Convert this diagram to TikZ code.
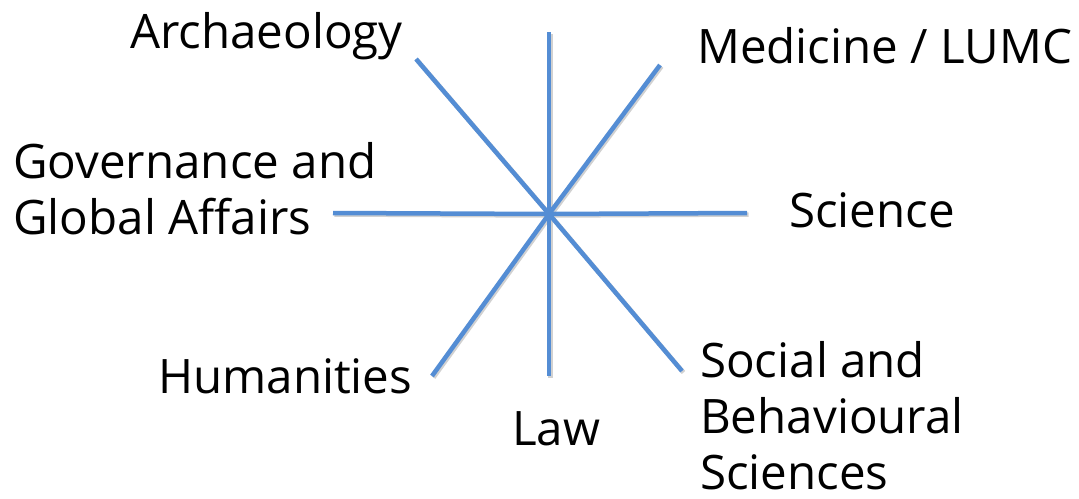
\documentclass[tikz,border=0pt]{standalone}
\usepackage{fontspec}
\setmainfont{Open Sans}
\usetikzlibrary{positioning}
\definecolor{spokeblue}{RGB}{84,141,212}
\tikzset{
    spoke/.style = {draw=spokeblue, line width=4.5pt},
    spokeshade/.style = {draw=black!18, line width=4.5pt},
    faculty/.style = {inner sep=0pt, anchor=base west, align=left, font=\fontsize{47.5}{56}\selectfont},
}

\begin{document}
\begin{tikzpicture}[x=1pt, y=-1pt]
    \useasboundingbox (0,0) rectangle (1079,498);
    % hub and spoke ends
    \coordinate (hub) at (549,214);
    \coordinate (n) at (549,32);
    \coordinate (ne) at (660,65);
    \coordinate (e) at (747,213);
    \coordinate (se) at (682,371);
    \coordinate (s) at (549,376);
    \coordinate (sw) at (432,376);
    \coordinate (w) at (333,213);
    \coordinate (nw) at (416,59);
    \foreach \e in {n,ne,e,se,s,sw,w,nw}
        \draw [spokeshade] ([shift={(1.5,1.5)}]hub) -- ([shift={(1.5,1.5)}]\e);
    \foreach \e in {n,ne,e,se,s,sw,w,nw}
        \draw [spoke] (hub) -- (\e);
    % faculties (multi-line ones sit on their last line)
    \node [faculty] (arch) at (130,48) {Archaeology};
    \node [faculty] (med) at (697,63) {Medicine / LUMC};
    \node [faculty] (gov) at (13,234) {Governance and\\Global Affairs};
    \node [faculty] (sci) at (789,227) {Science};
    \node [faculty] (hum) at (158,393) {Humanities};
    \node [faculty] (law) at (512,445) {Law};
    \node [faculty] (fsw) at (700,489) {Social and\\Behavioural\\Sciences};
\end{tikzpicture}
\end{document}
